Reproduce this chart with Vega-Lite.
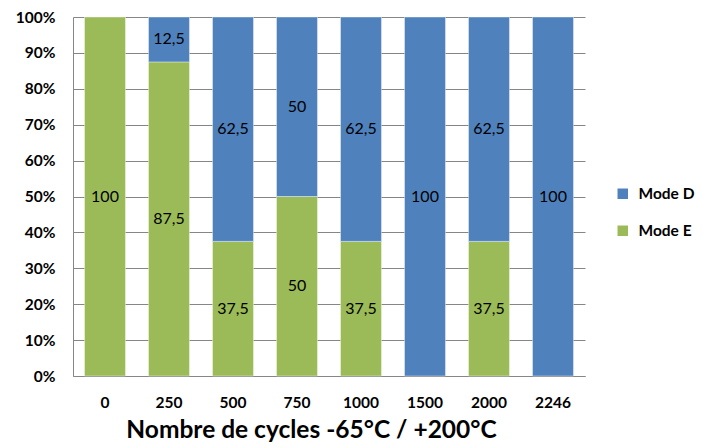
{
  "$schema": "https://vega.github.io/schema/vega-lite/v6.json",
  "width": 512,
  "height": 359,
  "autosize": {"type": "none"},
  "padding": {"left": 73, "top": 17, "right": 118, "bottom": 72},
  "background": "white",
  "config": {
    "font": "Lato",
    "view": {"stroke": null},
    "locale": {"number": {"decimal": ",", "thousands": " ", "grouping": [3], "currency": ["", " €"]}},
    "axisY": {
      "format": ".0%",
      "values": [0, 0.1, 0.2, 0.3, 0.4, 0.5, 0.6, 0.7, 0.8, 0.9, 1],
      "labelFont": "Lato",
      "labelFontSize": 15.5,
      "labelFontWeight": "bold",
      "labelColor": "#000000",
      "labelPadding": 18,
      "labelOverlap": false,
      "ticks": false,
      "grid": true,
      "gridColor": "#868686",
      "gridWidth": 1,
      "domainColor": "#868686",
      "domainWidth": 1
    }
  },
  "data": {
    "values": [
      {"cycles": "0", "mode": "Mode E", "pct": 100},
      {"cycles": "250", "mode": "Mode E", "pct": 87.5},
      {"cycles": "250", "mode": "Mode D", "pct": 12.5},
      {"cycles": "500", "mode": "Mode E", "pct": 37.5},
      {"cycles": "500", "mode": "Mode D", "pct": 62.5},
      {"cycles": "750", "mode": "Mode E", "pct": 50},
      {"cycles": "750", "mode": "Mode D", "pct": 50},
      {"cycles": "1000", "mode": "Mode E", "pct": 37.5},
      {"cycles": "1000", "mode": "Mode D", "pct": 62.5},
      {"cycles": "1500", "mode": "Mode D", "pct": 100},
      {"cycles": "2000", "mode": "Mode E", "pct": 37.5},
      {"cycles": "2000", "mode": "Mode D", "pct": 62.5},
      {"cycles": "2246", "mode": "Mode D", "pct": 100}
    ]
  },
  "transform": [
    {"calculate": "datum.mode === 'Mode E' ? 0 : 1", "as": "stackOrder"},
    {"stack": "pct", "groupby": ["cycles"], "sort": [{"field": "stackOrder", "order": "ascending"}], "as": ["p0", "p1"], "offset": "normalize"},
    {"calculate": "(datum.p0 + datum.p1) / 2", "as": "pmid"}
  ],
  "encoding": {
    "x": {
      "field": "cycles",
      "type": "ordinal",
      "sort": ["0", "250", "500", "750", "1000", "1500", "2000", "2246"],
      "scale": {"paddingInner": 0.36, "paddingOuter": 0.18},
      "axis": {
        "title": "Nombre de cycles -65°C / +200°C",
        "titleFont": "Lato",
        "titleFontSize": 24.5,
        "titleFontWeight": "bold",
        "titleColor": "#000000",
        "titlePadding": 8,
        "titleX": 238,
        "titleAlign": "center",
        "labelAngle": 0,
        "labelFont": "Lato",
        "labelFontSize": 15.5,
        "labelFontWeight": "bold",
        "labelColor": "#000000",
        "labelPadding": 19,
        "ticks": false,
        "domainColor": "#868686",
        "domainWidth": 1
      }
    }
  },
  "layer": [
    {
      "mark": {"type": "bar", "stroke": "#ffffff", "strokeOpacity": 0.4, "strokeWidth": 1},
      "encoding": {
        "y": {
          "field": "p0",
          "type": "quantitative",
          "scale": {"domain": [0, 1]},
          "axis": {"title": null}
        },
        "y2": {"field": "p1"},
        "color": {
          "field": "mode",
          "type": "nominal",
          "scale": {"domain": ["Mode D", "Mode E"], "range": ["#4F81BD", "#9BBB59"]},
          "legend": {
            "title": null,
            "orient": "none",
            "legendX": 542,
            "legendY": 169,
            "symbolType": "square",
            "symbolSize": 110,
            "symbolStrokeWidth": 0,
            "labelFont": "Lato",
            "labelFontSize": 15.5,
            "labelFontWeight": "bold",
            "labelColor": "#000000",
            "rowPadding": 20,
            "labelOffset": 8
          }
        }
      }
    },
    {
      "mark": {"type": "text", "font": "Lato", "fontSize": 16, "color": "#000000", "baseline": "middle"},
      "encoding": {
        "y": {"field": "pmid", "type": "quantitative", "axis": {"title": null}},
        "text": {"field": "pct", "type": "quantitative", "format": ".1~f"}
      }
    }
  ]
}
